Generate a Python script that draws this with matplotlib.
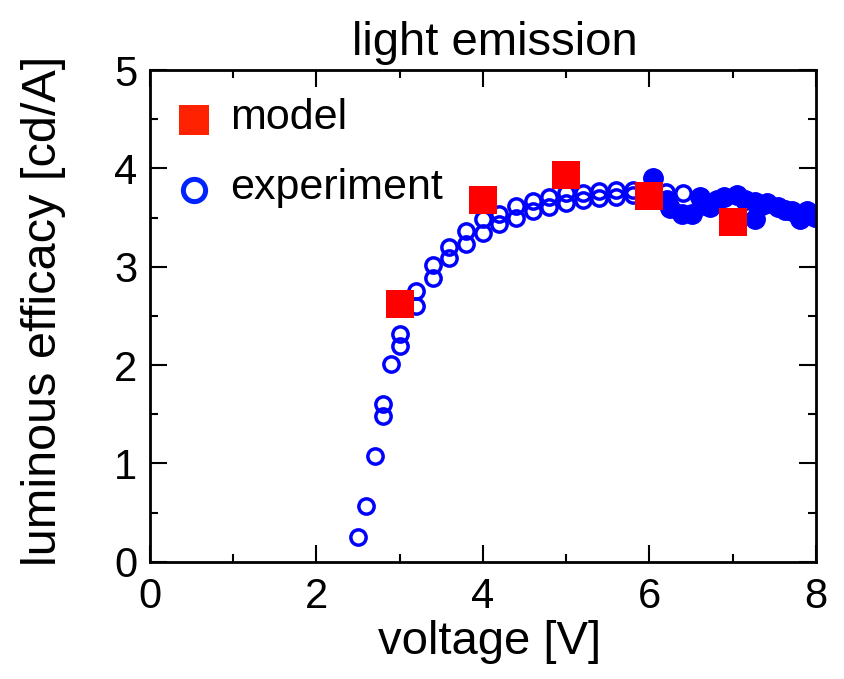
import matplotlib
matplotlib.use("Agg")
import matplotlib.pyplot as plt
from matplotlib.ticker import MultipleLocator

plt.rcParams['font.family'] = ['Liberation Sans', 'DejaVu Sans']

# model points
model_v = [3, 4, 5, 6, 7]
model_eff = [2.62, 3.68, 3.93, 3.72, 3.45]

# experiment, first sweep (open circles)
exp_v_a = [2.5, 2.6, 2.7, 2.8, 2.9, 3.0, 3.2, 3.4, 3.6, 3.8, 4.0, 4.2, 4.4,
           4.6, 4.8, 5.0, 5.2, 5.4, 5.6, 5.8, 6.0, 6.2, 6.4]
exp_eff_a = [0.25, 0.57, 1.08, 1.48, 2.01, 2.19, 2.60, 2.89, 3.09, 3.23, 3.34,
             3.43, 3.50, 3.57, 3.61, 3.65, 3.68, 3.70, 3.71, 3.73, 3.74, 3.76, 3.75]

# experiment, second sweep (open circles)
exp_v_b = [2.8, 3.0, 3.2, 3.4, 3.6, 3.8, 4.0, 4.2, 4.4, 4.6, 4.8, 5.0, 5.2,
           5.4, 5.6, 5.8]
exp_eff_b = [1.60, 2.32, 2.75, 3.02, 3.20, 3.36, 3.48, 3.54, 3.62, 3.67, 3.71,
             3.75, 3.75, 3.77, 3.78, 3.78]

# experiment, dense high-voltage part (overlapping -> looks filled)
exp_v_hi = [6.04, 6.21, 6.25, 6.39, 6.51, 6.61, 6.67, 6.73, 6.81, 6.89, 7.05,
            7.15, 7.27, 7.27, 7.35, 7.41, 7.55, 7.63, 7.71, 7.81, 7.89, 7.99]
exp_eff_hi = [3.90, 3.68, 3.60, 3.54, 3.54, 3.71, 3.63, 3.61, 3.68, 3.71, 3.73,
              3.68, 3.66, 3.48, 3.63, 3.65, 3.61, 3.58, 3.57, 3.48, 3.57, 3.51]

blue = '#0000ff'
red = '#ff0000'

fig = plt.figure(figsize=(8.44, 6.79), dpi=100)
ax = fig.add_axes([0.1773, 0.1727, 0.7895, 0.7242])

circ = dict(marker='o', linestyle='none', markersize=11, markeredgewidth=2.5,
            markerfacecolor='none', markeredgecolor=blue)
ax.plot(exp_v_a, exp_eff_a, **circ)
ax.plot(exp_v_b, exp_eff_b, **circ)
ax.plot(exp_v_hi, exp_eff_hi, marker='o', linestyle='none', markersize=14,
        color=blue)
ax.plot(model_v, model_eff, marker='s', linestyle='none', markersize=20,
        color=red, markeredgewidth=0)

# legend drawn as plain markers and text
ax.plot([0.53], [4.49], marker='s', markersize=22, color='#ff2200',
        markeredgewidth=0)
ax.plot([0.53], [3.78], marker='o', markersize=16, markeredgewidth=3.6,
        markerfacecolor='none', markeredgecolor='#0022ff')
ax.text(0.965, 4.51, 'model', fontsize=31, va='center')
ax.text(0.965, 3.80, 'experiment', fontsize=31, va='center')

ax.set_xlim(0, 8)
ax.set_ylim(0, 5)
ax.xaxis.set_major_locator(MultipleLocator(2))
ax.xaxis.set_minor_locator(MultipleLocator(1))
ax.yaxis.set_major_locator(MultipleLocator(1))
ax.yaxis.set_minor_locator(MultipleLocator(0.5))
ax.tick_params(which='both', direction='in', top=True, right=True,
               labelsize=30, width=1.5)
ax.tick_params(axis='x', pad=11)
ax.tick_params(axis='y', pad=9)
ax.tick_params(which='major', length=12)
ax.tick_params(which='minor', length=6)
for s in ax.spines.values():
    s.set_linewidth(2)

ax.set_xlabel('voltage [V]', fontsize=34)
ax.xaxis.set_label_coords(0.51, -0.118)
ax.set_ylabel('luminous efficacy [cd/A]', fontsize=35)
ax.yaxis.set_label_coords(-0.125, 0.51)
ax.set_title('light emission', fontsize=34, pad=11, x=0.518)

fig.savefig('out.png', dpi=100)
